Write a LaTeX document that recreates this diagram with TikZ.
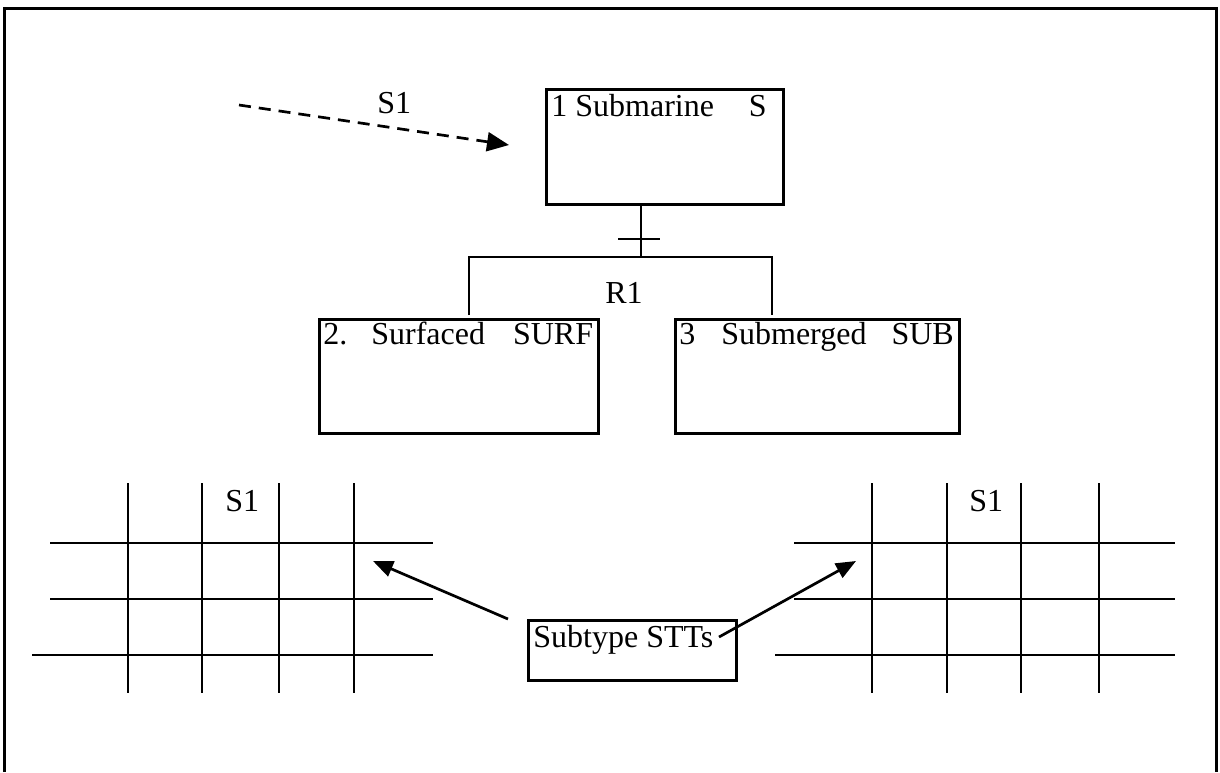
\documentclass[tikz,border=0pt]{standalone}
\usepackage{fontspec}
\setmainfont{Liberation Serif}
\usetikzlibrary{arrows.meta,calc}
\begin{document}
\begin{tikzpicture}[x=0.5pt, y=-0.5pt, line width=1.35pt,
  box/.style={draw, rectangle, anchor=north west, inner sep=0pt, line width=1.4pt},
  txt/.style={font=\fontsize{16}{19}\selectfont, inner sep=0pt, anchor=base west},
  gridline/.style={line width=1.35pt},
  solidtip/.style={-{Triangle[length=10pt,width=8pt]}},
  dashtip/.style={dash pattern=on 6pt off 4pt, -{Triangle[length=11pt,width=9.5pt]}},
]
\useasboundingbox (0,0) rectangle (1220,772);

% outer frame
\draw[line width=1.5pt] (4,772) -- (4,8) -- (1216,8) -- (1216,772);

% entity boxes
\node[box, minimum width=118.5pt, minimum height=57.5pt] (sub)  at (545,88)  {};
\node[box, minimum width=139.5pt, minimum height=57pt]   (surf) at (318,318) {};
\node[box, minimum width=142pt,   minimum height=57pt]   (subm) at (674,318) {};
\node[box, minimum width=104pt,   minimum height=30pt]   (stt)  at (527,619) {};

% box titles
\node[txt] (subname) at (550,116) {1 Submarine};
\node[txt, anchor=base east] (subkey) at (768,116) {S};
\node[txt] (surfname) at (322,344) {2.\hspace{12pt}Surfaced\hspace{14pt}SURF};
\node[txt] (submname) at (678,344) {3\hspace{13pt}Submerged\hspace{12.5pt}SUB};
\node[txt] (sttname) at (532,647) {Subtype STTs};

% subtype relationship R1
\coordinate (hub)  at (641,257);
\coordinate (barL) at (469,257);
\coordinate (barR) at (772,257);
\draw (hub |- sub.south) -- (hub);
\draw ($(hub)+(-23,-18)$) -- ($(hub)+(19,-18)$);
\draw ($(barL |- surf.north)+(0,-3)$) -- (barL) -- (barR) -- ($(barR |- subm.north)+(0,-3)$);
\node[txt] (r1) at (604,303) {R1};

% incoming dashed event arrow
\coordinate (dstart) at (239,105);
\coordinate (dtip)   at (509,145);
\draw[dashtip] (dstart) -- (dtip);
\node[txt] (s1top) at (376,113) {S1};

% left state transition table
\foreach \gx in {128,202,279,354} \draw[gridline] (\gx,483) -- (\gx,693);
\draw[gridline] (50,543) -- (433,543);
\draw[gridline] (50,599) -- (433,599);
\draw[gridline] (32,655) -- (433,655);
\node[txt] (s1left) at (224,511) {S1};

% right state transition table
\foreach \gx in {872,947,1021,1099} \draw[gridline] (\gx,483) -- (\gx,693);
\draw[gridline] (794,543) -- (1175,543);
\draw[gridline] (794,599) -- (1175,599);
\draw[gridline] (775,655) -- (1175,655);
\node[txt] (s1right) at (968,511) {S1};

% pointers from the label to the tables
\coordinate (tailL) at (508,619);
\coordinate (tgtL)  at (373,561);
\coordinate (tailR) at (719,637);
\coordinate (tgtR)  at (856,561);
\draw[solidtip] (tailL) -- (tgtL);
\draw[solidtip] (tailR) -- (tgtR);
\end{tikzpicture}
\end{document}
